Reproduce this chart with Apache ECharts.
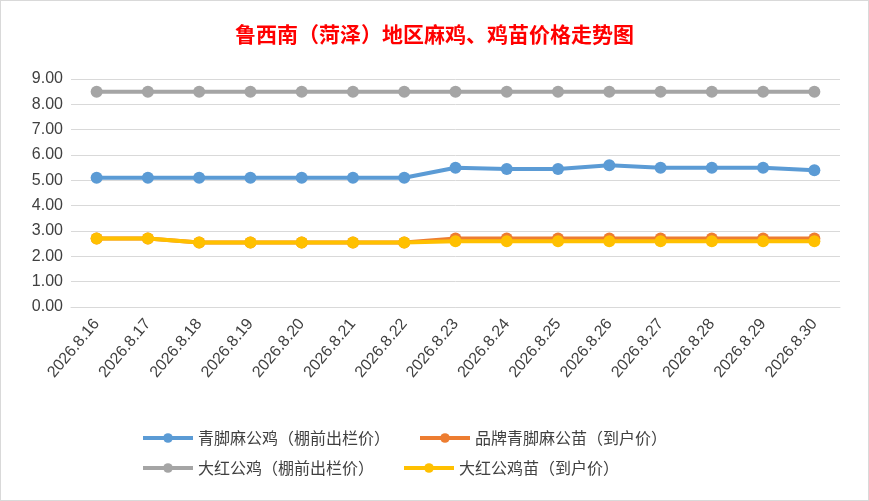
<!DOCTYPE html>
<html><head><meta charset="utf-8">
<script src="https://cdn.jsdelivr.net/npm/echarts@6/dist/echarts.min.js"></script>
<style>html,body{margin:0;padding:0;background:#fff}#c{width:867px;height:499px;border:1px solid #d9d9d9}</style>
</head><body><div id="c"></div>
<script>
const dates = ["2026.8.16","2026.8.17","2026.8.18","2026.8.19","2026.8.20","2026.8.21","2026.8.22","2026.8.23","2026.8.24","2026.8.25","2026.8.26","2026.8.27","2026.8.28","2026.8.29","2026.8.30"];
const qingjiao = [5.1,5.1,5.1,5.1,5.1,5.1,5.1,5.5,5.45,5.45,5.6,5.5,5.5,5.5,5.4];
const pinpai = [2.7,2.7,2.55,2.55,2.55,2.55,2.55,2.7,2.7,2.7,2.7,2.7,2.7,2.7,2.7];
const dahong = [8.5,8.5,8.5,8.5,8.5,8.5,8.5,8.5,8.5,8.5,8.5,8.5,8.5,8.5,8.5];
const dahongMiao = [2.7,2.7,2.55,2.55,2.55,2.55,2.55,2.6,2.6,2.6,2.6,2.6,2.6,2.6,2.6];
const names = ["青脚麻公鸡（棚前出栏价）","品牌青脚麻公苗（到户价）","大红公鸡（棚前出栏价）","大红公鸡苗（到户价）"];
const colors = ["#5b9bd5","#ed7d31","#a5a5a5","#ffc000"];
const font = "'Noto Sans CJK SC', sans-serif";
let chart = echarts.init(document.getElementById("c"));
function s(i, data, z) {
  return { name: names[i], type: "line", data: data, z: z, symbol: "circle", symbolSize: 12,
    lineStyle: { width: 4, color: colors[i] }, itemStyle: { color: colors[i] } };
}
function leg(top, data) {
  return { top: top, left: 135, itemGap: 28, itemWidth: 50, itemHeight: 12,
    lineStyle: { width: 4 },
    textStyle: { fontSize: 16, color: "#404040", fontFamily: font, width: 250 }, data: data };
}
chart.setOption({
  animation: false,
  color: colors,
  title: { text: "鲁西南（菏泽）地区麻鸡、鸡苗价格走势图", left: "center", top: 18,
    textStyle: { color: "#ff0000", fontSize: 21, fontWeight: "bold", fontFamily: font } },
  grid: { left: 70, right: 28, top: 78, bottom: 193 },
  legend: [leg(424, [names[0], names[1]]), leg(454, [names[2], names[3]])],
  xAxis: { type: "category", data: dates, boundaryGap: true,
    axisLine: { lineStyle: { color: "#d9d9d9" } }, axisTick: { show: false },
    axisLabel: { rotate: 50, color: "#404040", fontSize: 16, margin: 14, fontFamily: "Liberation Sans" } },
  yAxis: { type: "value", min: 0, max: 9, interval: 1,
    axisLine: { show: false }, axisTick: { show: false },
    splitLine: { lineStyle: { color: "#d9d9d9" } },
    axisLabel: { color: "#404040", fontSize: 16, formatter: v => v.toFixed(2), fontFamily: "Liberation Sans" } },
  series: [s(0, qingjiao, 2), s(1, pinpai, 2), s(2, dahong, 2), s(3, dahongMiao, 3)]
});
</script></body></html>
